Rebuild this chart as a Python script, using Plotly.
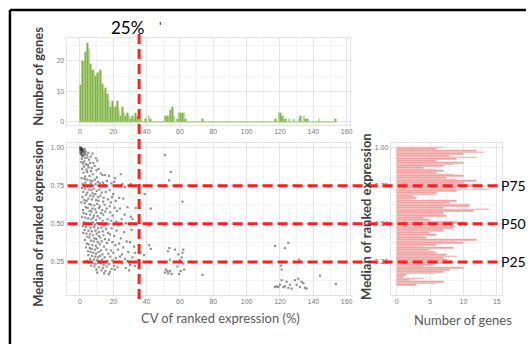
import plotly.graph_objects as go

W, H = 529, 344

# ---------------- data ----------------
# Top histogram: CV of ranked expression (%) bins (width 1) and gene counts
hist_cv_bin = [0, 1, 2, 3, 4, 5, 6, 7, 8, 9, 10, 11, 12, 13, 14, 15, 16, 17, 18, 19,
               20, 21, 22, 23, 24, 25, 26, 27, 28, 29, 30, 31, 32, 33, 34, 35, 36, 39, 41, 42,
               51, 52, 53, 54, 55, 56, 58, 59, 60, 61, 62, 63, 73,
               117, 119, 120, 121, 122, 123, 125, 128, 131, 132, 134, 135, 136, 143, 153]
hist_counts = [12, 20, 20, 23, 26, 24, 19, 17, 17, 15, 16, 16.5, 17, 12.5, 10, 11, 9, 7, 5, 7,
               5, 5, 7, 4, 2, 5, 3, 2, 3, 2, 1, 2, 1, 3, 2, 1, 1, 1, 2, 1,
               2, 2, 2, 4, 5, 2, 1, 3, 3, 3, 3, 1, 1,
               1, 3, 3, 2, 1, 1, 1, 1, 1, 2, 2, 1, 1, 1, 1]

# Scatter: CV (%) vs median of ranked expression
scatter_cv = [
    0.2, 0.5, 0.8, 1.0, 0.3, 1.5, 1.2, 2.0, 0.6, 2.5, 1.8, 3.0, 0.9, 2.2, 3.5, 4.0, 1.4, 0.4, 2.8, 5.0,
    6.5, 4.5, 3.2, 7.5, 1.1, 5.5, 9.5, 10.5, 2.6, 8.0, 0.1, 0.7, 1.3, 0.35, 1.7,
    0.8, 1.9, 3.6, 4.8, 6.1, 2.4, 5.2, 7.0, 1.3, 3.9, 8.8, 9.9, 11.2, 6.6, 4.3, 2.1, 12.5, 7.8, 13.5, 5.7,
    3.1, 10.2, 15.0, 17.5, 21.0, 24.5,
    1.0, 2.7, 4.1, 5.9, 7.3, 8.9, 10.8, 3.3, 6.4, 9.4, 11.9, 1.6, 13.8, 16.2, 18.9, 20.5, 2.3, 4.7, 7.9,
    12.7, 14.6, 22.5, 27.0, 30.5, 25.5,
    1.2, 3.0, 5.3, 6.9, 8.4, 10.1, 11.6, 2.0, 4.4, 7.6, 9.2, 13.1, 15.5, 17.8, 20.0, 3.7, 6.2, 8.1, 10.9,
    12.3, 14.2, 1.5, 5.0, 7.2, 9.7, 16.8, 19.2, 23.5, 26.0, 2.6, 4.0, 11.1, 13.9, 18.5, 21.5,
    0.9, 2.9, 5.6, 6.7, 8.6, 10.4, 12.0, 14.8, 3.4, 4.6, 7.4, 9.1, 11.4, 13.3, 16.0, 17.9, 20.8, 24.0,
    28.5, 1.8, 5.8, 7.0, 9.8, 12.6, 15.2, 18.2, 22.2, 26.8, 2.2, 3.8, 6.0, 8.3, 10.6, 14.0, 19.6, 30.5,
    1.4, 3.2, 4.9, 6.8, 8.0, 9.6, 11.8, 13.6, 16.5, 18.8, 21.8, 25.0, 2.5, 4.2, 5.5, 7.7, 9.0, 10.3,
    12.4, 14.5, 17.2, 20.2, 23.0, 27.5, 1.7, 3.5, 6.3, 8.5, 10.9, 12.9, 15.6, 19.0, 2.8, 5.1, 7.1, 9.3,
    11.5, 13.7, 16.9, 22.0, 26.5, 31.0,
    2.0, 3.9, 6.0, 7.9, 10.0, 11.3, 14.1, 18.0, 20.6, 4.5, 5.7, 8.7, 9.9, 12.2, 15.0, 17.4, 24.5, 3.0,
    6.6, 8.2, 10.7, 13.0, 16.2, 19.5, 23.5, 28.0, 4.1, 5.3, 7.4, 9.5, 11.9, 14.4, 21.2, 26.0, 30.0, 32.5,
    3.6, 5.9, 7.0, 8.9, 10.5, 12.6, 15.8, 18.6, 22.8, 4.8, 6.4, 8.0, 9.7, 11.2, 13.5, 17.0, 20.0, 25.2,
    29.0, 33.0, 5.0, 7.2, 9.1, 10.8, 12.0, 14.8, 18.2, 21.5, 24.0, 27.0, 31.5, 6.1, 8.4, 10.2, 11.7,
    13.3, 16.4, 19.4, 23.0, 28.5, 4.3,
    5.5, 7.8, 9.3, 10.9, 12.5, 14.2, 17.5, 20.5, 25.5, 30.0, 3.0, 6.6, 8.6, 11.3, 13.8, 16.0, 19.0,
    22.5, 27.5, 33.0, 9.9, 12.9, 15.3, 18.0, 21.0, 10.4, 14.5, 17.3, 29.5,
    51.0, 54.5, 53.5, 38.8, 61.5, 42.5, 33.5, 41.4, 31.5, 41.5, 42.5, 38.5, 35.4, 53.6, 52.8,
    57.0, 59.0, 61.0, 60.0, 62.0, 58.5, 61.5, 62.0, 60.5, 62.5, 59.5,
    52.5, 51.0, 53.0, 54.0, 55.0, 51.5, 73.5, 54.0,
    117.0, 125.0, 123.0, 131.5, 120.5, 121.0, 118.0, 119.0, 120.0, 121.0, 122.0, 123.0, 124.0, 125.0,
    126.0, 127.0, 129.0, 130.0, 132.0, 133.0, 134.0, 135.0, 136.0, 131.0, 117.0, 144.0, 153.5]
scatter_median = [
    1.00, 0.99, 0.995, 0.98, 0.975, 0.99, 0.97, 0.985, 0.96, 0.97, 0.955, 0.96, 0.95, 0.945, 0.975, 0.95,
    0.94, 0.985, 0.99, 0.965, 0.94, 0.935, 0.93, 0.96, 0.925, 0.92, 0.93, 0.915, 0.91, 0.90, 0.995,
    1.0, 0.985, 0.965, 0.975,
    0.905, 0.895, 0.89, 0.885, 0.90, 0.875, 0.87, 0.865, 0.86, 0.855, 0.88, 0.85, 0.86, 0.845, 0.84,
    0.835, 0.83, 0.825, 0.82, 0.815, 0.81, 0.805, 0.82, 0.815, 0.80, 0.825,
    0.80, 0.795, 0.79, 0.785, 0.78, 0.79, 0.775, 0.77, 0.765, 0.76, 0.765, 0.76, 0.77, 0.78, 0.765,
    0.775, 0.75, 0.745, 0.75, 0.745, 0.755, 0.745, 0.74, 0.76, 0.76,
    0.735, 0.73, 0.725, 0.72, 0.73, 0.715, 0.725, 0.71, 0.705, 0.70, 0.695, 0.705, 0.71, 0.72, 0.695,
    0.69, 0.685, 0.68, 0.675, 0.685, 0.67, 0.675, 0.665, 0.66, 0.655, 0.66, 0.675, 0.67, 0.665, 0.655,
    0.65, 0.65, 0.645, 0.64, 0.65,
    0.64, 0.635, 0.63, 0.625, 0.62, 0.63, 0.615, 0.625, 0.61, 0.605, 0.60, 0.595, 0.605, 0.59, 0.60,
    0.615, 0.605, 0.60, 0.61, 0.59, 0.585, 0.58, 0.575, 0.57, 0.58, 0.575, 0.585, 0.56, 0.57, 0.565,
    0.56, 0.555, 0.55, 0.56, 0.555, 0.545,
    0.545, 0.54, 0.535, 0.53, 0.54, 0.525, 0.535, 0.52, 0.53, 0.52, 0.515, 0.53, 0.51, 0.505, 0.50,
    0.51, 0.495, 0.505, 0.50, 0.49, 0.50, 0.495, 0.49, 0.505, 0.485, 0.48, 0.475, 0.48, 0.47, 0.475,
    0.465, 0.47, 0.46, 0.455, 0.45, 0.455, 0.445, 0.45, 0.44, 0.455, 0.445, 0.46,
    0.44, 0.435, 0.43, 0.425, 0.435, 0.42, 0.425, 0.43, 0.42, 0.415, 0.41, 0.405, 0.40, 0.41, 0.40,
    0.395, 0.405, 0.395, 0.39, 0.385, 0.38, 0.385, 0.375, 0.38, 0.37, 0.385, 0.37, 0.365, 0.36, 0.355,
    0.365, 0.35, 0.36, 0.345, 0.38, 0.35,
    0.345, 0.34, 0.335, 0.33, 0.34, 0.325, 0.33, 0.325, 0.33, 0.32, 0.315, 0.31, 0.305, 0.315, 0.30,
    0.305, 0.31, 0.30, 0.315, 0.31, 0.295, 0.29, 0.285, 0.28, 0.29, 0.28, 0.285, 0.275, 0.285, 0.27,
    0.28, 0.27, 0.265, 0.26, 0.255, 0.265, 0.255, 0.26, 0.25, 0.255, 0.255,
    0.245, 0.24, 0.235, 0.245, 0.24, 0.23, 0.235, 0.225, 0.24, 0.23, 0.25, 0.225, 0.22, 0.215, 0.21,
    0.22, 0.205, 0.215, 0.21, 0.225, 0.20, 0.195, 0.19, 0.185, 0.20, 0.18, 0.175, 0.17, 0.195,
    0.95, 0.84, 0.785, 0.695, 0.645, 0.60, 0.605, 0.49, 0.53, 0.36, 0.335, 0.295, 0.31, 0.34, 0.32,
    0.33, 0.30, 0.28, 0.26, 0.24, 0.22, 0.31, 0.33, 0.19, 0.20, 0.17,
    0.19, 0.18, 0.175, 0.19, 0.17, 0.20, 0.165, 0.265,
    0.355, 0.375, 0.34, 0.265, 0.225, 0.20, 0.09, 0.085, 0.10, 0.13, 0.085, 0.09, 0.12, 0.08,
    0.10, 0.075, 0.13, 0.10, 0.085, 0.12, 0.11, 0.08, 0.075, 0.14, 0.085, 0.16, 0.105]

# Right bar chart: genes per median bin (listed from the top bin, 1.00, downward)
median_bin_top = 1.0
median_bin_width = 0.011
median_bin_counts = [7.1, 6, 12, 13, 10, 8, 12, 9, 6, 10, 8.5, 7, 4, 6, 7, 6, 8.5, 10, 7.5, 9,
                     12, 10, 12.5, 12, 9, 14, 9, 6, 6, 2.5, 3, 2, 9, 8, 11, 11, 7, 14, 11.5, 7,
                     7, 7.5, 4, 5, 9, 10, 7.5, 9, 8.5, 7, 7, 5, 6, 4, 4.5, 12, 9, 10, 6, 4,
                     8.5, 5, 5.5, 6, 7.5, 9, 7, 7.5, 8, 7.5, 5.5, 4, 10, 8, 7, 6, 1.5, 1, 4, 2,
                     7, 6, 3]
median_bin_centers = [median_bin_top - i * median_bin_width for i in range(len(median_bin_counts))]

cv_ticks = [0, 20, 40, 60, 80, 100, 120, 140, 160]
median_ticks = [0.25, 0.50, 0.75, 1.00]
median_tick_labels = ["0.25", "0.50", "0.75", "1.00"]
count_ticks_top = [0, 10, 20]
count_ticks_right = [0, 5, 10, 15]
cv_cut = 35.5
percentile_lines = [0.75, 0.50, 0.25]
percentile_labels = ["P75", "P50", "P25"]


def px_x(p):
    return p / W


def px_y(p):
    return 1 - p / H


fig = go.Figure()

# Histogram (top)
fig.add_trace(go.Scatter(x=[0, 154], y=[0, 0], mode="lines", line=dict(color="#9cc46c", width=1),
                         xaxis="x", yaxis="y", hoverinfo="skip"))
fig.add_trace(go.Bar(x=[b + 0.5 for b in hist_cv_bin], y=hist_counts, width=1,
                     marker=dict(color="#7db044", line=dict(color="rgba(190,220,150,0.8)", width=0.4)),
                     xaxis="x", yaxis="y"))

# Scatter
fig.add_trace(go.Scatter(x=scatter_cv, y=scatter_median, mode="markers",
                         marker=dict(symbol="square", size=2.2, color="rgba(40,40,40,0.5)",
                                     line=dict(width=0)),
                         xaxis="x2", yaxis="y2"))

# Right horizontal bars
fig.add_trace(go.Bar(x=median_bin_counts, y=median_bin_centers, orientation="h",
                     width=median_bin_width,
                     marker=dict(color="#f09c9c", line=dict(color="rgba(255,255,255,0.5)", width=0.3)),
                     xaxis="x3", yaxis="y3"))

tickfont = dict(family="Liberation Sans, Arial", size=7, color="#7a7a7a")
grid = dict(showgrid=True, gridcolor="#e6e6e6", gridwidth=1, zeroline=False,
            showline=True, mirror=True, linecolor="#e3e3e3", linewidth=1,
            ticks="", tickfont=tickfont)


def minor(d):
    return dict(showgrid=True, gridcolor="#f3f3f3", gridwidth=0.6, dtick=d, tick0=0)


xdom = [px_x(67), px_x(352)]
fig.update_layout(
    width=W, height=H, margin=dict(l=0, r=0, t=0, b=0),
    paper_bgcolor="white", plot_bgcolor="white", showlegend=False, bargap=0,
    xaxis=dict(domain=xdom, range=[-8, 162], tickvals=cv_ticks, anchor="y", minor=minor(10), **grid),
    yaxis=dict(domain=[px_y(125), px_y(38)], range=[-1, 27.5], tickvals=count_ticks_top, anchor="x",
               minor=minor(5), **grid),
    xaxis2=dict(domain=xdom, range=[-8, 162], tickvals=cv_ticks, anchor="y2", minor=minor(10), **grid),
    yaxis2=dict(domain=[px_y(295), px_y(143)], range=[0.033, 1.03], tickvals=median_ticks,
                ticktext=median_tick_labels, anchor="x2", minor=minor(0.125), **grid),
    xaxis3=dict(domain=[px_x(393), px_x(505)], range=[-0.9, 15.8], tickvals=count_ticks_right, anchor="y3",
                minor=minor(2.5), **grid),
    yaxis3=dict(domain=[px_y(295), px_y(143)], range=[0.033, 1.03], tickvals=median_ticks,
                ticktext=median_tick_labels, anchor="x3", minor=minor(0.125), **grid),
)

shapes = []
# black frame
shapes.append(dict(type="line", xref="paper", yref="paper", x0=px_x(10), x1=1.0, y0=px_y(10), y1=px_y(10),
                   line=dict(color="black", width=2.5)))
shapes.append(dict(type="line", xref="paper", yref="paper", x0=px_x(10), x1=px_x(10), y0=0, y1=px_y(10),
                   line=dict(color="black", width=2.5)))
red = dict(color="#ff1f1f", width=3, dash="10px,5px")
shapes.append(dict(type="line", xref="x", yref="paper", x0=cv_cut, x1=cv_cut, y0=px_y(299), y1=px_y(33),
                   line=red))
for v in percentile_lines:
    shapes.append(dict(type="line", xref="paper", yref="y2", x0=px_x(68), x1=px_x(501), y0=v, y1=v,
                       line=red))
fig.update_layout(shapes=shapes)

title_bold = dict(family="Lato, Open Sans, sans-serif", size=13, color="#3f3f3f")
title_norm = dict(family="Lato, Open Sans, sans-serif", size=13, color="#5a5a5a")
big = dict(family="Lato, Open Sans, sans-serif", size=17, color="black")
plab = dict(family="Lato, Open Sans, sans-serif", size=14, color="black")
C = dict(xanchor="center", yanchor="middle", showarrow=False, xref="paper", yref="paper")

ann = []
ann.append(dict(text="<b>Number of genes</b>", x=px_x(38), y=px_y(76), textangle=-90, font=title_bold, **C))
ann.append(dict(text="<b>Median of ranked expression</b>", x=px_x(38), y=px_y(223), textangle=-90,
                font=title_bold, **C))
ann.append(dict(text="<b>Median of ranked expression</b>", x=px_x(368), y=px_y(216), textangle=-90,
                font=title_bold, **C))
ann.append(dict(text="CV of ranked expression (%)", x=px_x(222), y=px_y(318), font=title_norm, **C))
ann.append(dict(text="Number of genes", x=px_x(466), y=px_y(320), font=title_norm, **C))
ann.append(dict(text="25%", x=px_x(128), y=px_y(27), font=big, **C))
ann.append(dict(text="'", x=px_x(161), y=px_y(25), font=dict(family="Lato", size=12, color="black"), **C))
for v, lab in zip(percentile_lines, percentile_labels):
    ann.append(dict(text=lab, x=px_x(502), y=v, xref="paper", yref="y2", xanchor="left",
                    yanchor="middle", showarrow=False, font=plab))
fig.update_layout(annotations=ann)

fig.write_html("out.html", config={"displayModeBar": False},
               post_script="document.body.style.margin='0';document.body.style.padding='0';"
                           "document.body.style.overflow='hidden';")
